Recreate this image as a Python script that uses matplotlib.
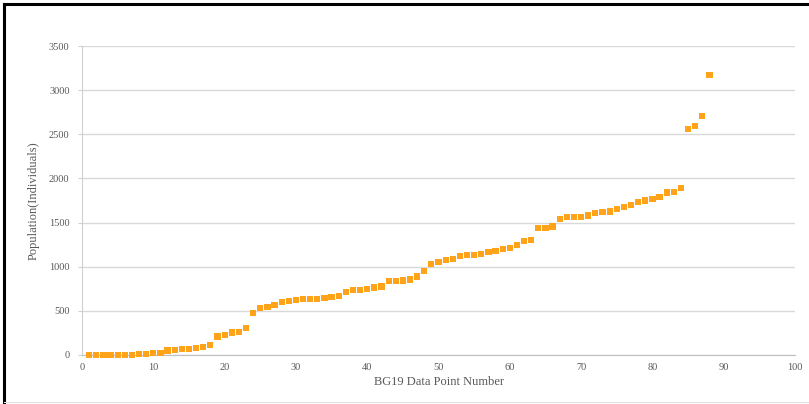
import matplotlib
matplotlib.use("Agg")
import matplotlib.pyplot as plt
from matplotlib.lines import Line2D

# population per BG19 data point, sorted ascending
point_no = list(range(1, 89))
population = [
    1, 2, 2, 3, 3, 4, 4, 10, 12, 25,
    25, 50, 60, 65, 70, 75, 95, 110, 210, 225,
    255, 260, 310, 480, 530, 545, 570, 600, 615, 625,
    630, 630, 635, 650, 660, 670, 715, 735, 740, 745,
    765, 775, 835, 840, 845, 855, 890, 950, 1030, 1055,
    1080, 1090, 1120, 1130, 1135, 1140, 1165, 1180, 1200, 1210,
    1250, 1290, 1300, 1440, 1440, 1455, 1540, 1560, 1560, 1560,
    1580, 1605, 1620, 1625, 1650, 1680, 1700, 1730, 1750, 1770,
    1790, 1840, 1850, 1890, 2560, 2590, 2710, 3170,
]
x_ticks = [0, 10, 20, 30, 40, 50, 60, 70, 80, 90, 100]
y_ticks = [0, 500, 1000, 1500, 2000, 2500, 3000, 3500]

plt.rcParams['font.family'] = ['Liberation Serif', 'DejaVu Serif']

fig = plt.figure(figsize=(8.09, 4.04), dpi=100)
ax = fig.add_axes([0.1014, 0.1213, 0.8813, 0.7648])

ax.scatter(point_no, population, marker='s', s=20, color='#FFA31A',
           edgecolors='none', zorder=3, clip_on=False)

ax.set_xlim(0, 100)
ax.set_ylim(0, 3500)
ax.set_xticks(x_ticks)
ax.set_yticks(y_ticks)
ax.grid(axis='y', color='#D9D9D9', linewidth=1)
ax.set_axisbelow(True)

for side in ['top', 'right']:
    ax.spines[side].set_visible(False)
ax.spines['left'].set_color('#D0D0D0')
ax.spines['bottom'].set_color('#BFBFBF')
ax.tick_params(axis='x', length=0, pad=6, labelsize=7.5, labelcolor='#595959')
ax.tick_params(axis='y', length=3, color='#D0D0D0', pad=6, labelsize=7.5,
               labelcolor='#595959')

ax.set_xlabel('BG19 Data Point Number', fontsize=9, color='#595959', labelpad=3)
ax.set_ylabel('Population(Individuals)', fontsize=9, color='#595959', labelpad=7)

# frame edges around the figure
fig.add_artist(Line2D([0.005, 1.0], [0.99, 0.99], color='black', linewidth=2.2))
fig.add_artist(Line2D([0.005, 0.005], [0.0, 0.99], color='black', linewidth=2.2))
fig.add_artist(Line2D([0.005, 1.0], [0.004, 0.004], color='#E0E0E0', linewidth=0.8))

fig.savefig('out.png', dpi=100)
